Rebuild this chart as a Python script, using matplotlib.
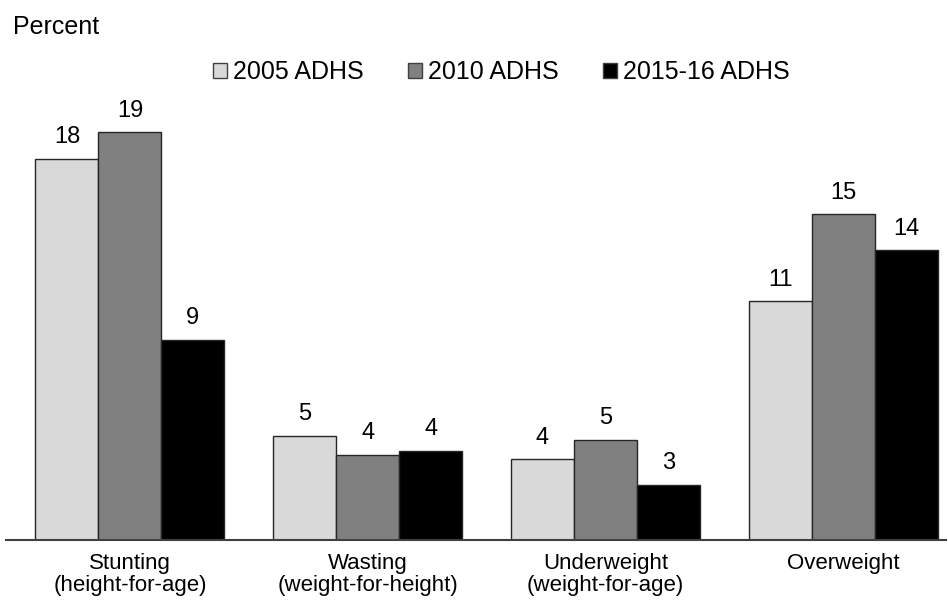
import numpy as np
import matplotlib
matplotlib.use("Agg")
import matplotlib.pyplot as plt
from matplotlib.patches import Patch

plt.rcParams['font.family'] = ['Liberation Sans', 'DejaVu Sans']

categories = ["Stunting\n(height-for-age)", "Wasting\n(weight-for-height)",
              "Underweight\n(weight-for-age)", "Overweight"]
series_names = ["2005 ADHS", "2010 ADHS", "2015-16 ADHS"]
# bar heights, labels are the rounded figures shown
adhs_2005 = [17.9, 4.9, 3.8, 11.2]
adhs_2010 = [19.15, 4.0, 4.7, 15.3]
adhs_2015 = [9.4, 4.2, 2.6, 13.6]
labels_2005 = ["18", "5", "4", "11"]
labels_2010 = ["19", "4", "5", "15"]
labels_2015 = ["9", "4", "3", "14"]

colors = ["#D9D9D9", "#808080", "#000000"]

fig = plt.figure(figsize=(9.48, 6.02), dpi=100)
ax = fig.add_axes([6 / 948, 62 / 602, 940 / 948, 440 / 602])

x = np.arange(len(categories))
width = 0.265
all_vals = [adhs_2005, adhs_2010, adhs_2015]
all_labels = [labels_2005, labels_2010, labels_2015]

for i, (vals, labs) in enumerate(zip(all_vals, all_labels)):
    pos = x + (i - 1) * width
    bars = ax.bar(pos, vals, width, color=colors[i], edgecolor="#262626",
                  linewidth=1.0, zorder=2)
    for b, lab in zip(bars, labs):
        ax.annotate(lab, (b.get_x() + b.get_width() / 2, b.get_height()),
                    xytext=(0, 7.5), textcoords="offset points",
                    ha="center", va="bottom", fontsize=17)

ax.set_xlim(-0.521, 3.432)
ax.set_ylim(0, 440 / 21.3)
ax.set_xticks(x)
ax.set_xticklabels(categories, fontsize=16, linespacing=1.1)
ax.tick_params(axis="x", length=0, pad=9)
ax.set_yticks([])
for side in ["left", "right", "top"]:
    ax.spines[side].set_visible(False)
ax.spines["bottom"].set_color("#404040")
ax.spines["bottom"].set_linewidth(1.5)

fig.text(13 / 948, 1 - 27 / 602, "Percent", fontsize=18, va="center", ha="left")

handles = [Patch(facecolor=c, edgecolor="#404040", linewidth=1.0) for c in colors]
fig.legend(handles, series_names, loc="center", bbox_to_anchor=(0.529, 1 - 72 / 602),
           ncol=3, frameon=False, fontsize=18, handlelength=0.56, handleheight=0.56,
           handletextpad=0.25, columnspacing=1.75, borderpad=0, borderaxespad=0)

fig.savefig("out.png", dpi=100)
